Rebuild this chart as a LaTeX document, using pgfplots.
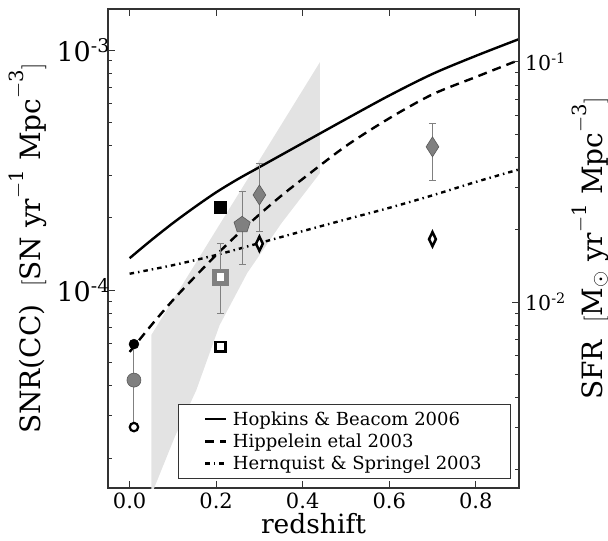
\documentclass[border=0pt]{standalone}
\usepackage{fontspec}
\setmainfont{DejaVu Serif}
\usepackage{pgfplots}
\pgfplotsset{compat=1.18}
\usetikzlibrary{plotmarks}

\definecolor{band}{gray}{0.89}
\definecolor{mgray}{gray}{0.5}
\definecolor{dgray}{gray}{0.35}
\definecolor{frame}{gray}{0.2}

\begin{document}
\begin{tikzpicture}
\begin{axis}[
  scale only axis, width=411pt, height=479pt,
  xmin=-0.05, xmax=0.9,
  ymode=log,
  tick align=inside,
  major tick length=7pt, minor tick length=4pt,
  axis line style={line width=1.3pt, frame},
  every tick/.style={frame, line width=0.8pt},
  label style={font=\fontsize{28}{32}\selectfont},
  ymin=1.5e-5, ymax=1.48e-3,
  xtick={0,0.2,0.4,0.6,0.8}, xticklabels={0.0,0.2,0.4,0.6,0.8},
  ytick={1e-4,1e-3}, yticklabels={10\textsuperscript{-4},10\textsuperscript{-3}},
  minor ytick={2e-5,3e-5,4e-5,5e-5,6e-5,7e-5,8e-5,9e-5,2e-4,3e-4,4e-4,5e-4,6e-4,7e-4,8e-4,9e-4},
  ytick pos=left, xtick pos=both,
  xticklabel style={font=\fontsize{21}{24}\selectfont, inner sep=0pt, anchor=north, yshift=-5pt},
  yticklabel style={font=\fontsize{27}{30}\selectfont, inner sep=0pt, anchor=east, xshift=2pt},
  xlabel={redshift},
  ylabel={SNR(CC)\ \ $[\mathrm{SN\ yr^{-1}\ Mpc^{-3}}]$},
  xlabel style={at={(axis description cs:0.5,-0.095)}, anchor=base, inner sep=0pt, font=\fontsize{26.5}{30}\selectfont},
  ylabel style={at={(axis description cs:-0.195,0.5)}, anchor=center},
  legend style={at={(axis description cs:0.9805,0.0188)}, anchor=south east,
    draw=frame, line width=0.8pt, font=\fontsize{18}{21}\selectfont,
    inner xsep=25.4pt, inner ysep=3.75pt, row sep=0pt, column sep=1.8pt,
    nodes={inner sep=3.6pt}, cells={anchor=west}},
  legend image code/.code={\draw[#1] (0pt,0pt) -- (21pt,0pt);},
]
\coordinate (sw) at (rel axis cs:0,0);
\coordinate (ne) at (rel axis cs:1,1);

% shaded band
\addplot[fill=band, draw=none, forget plot] coordinates {
 (0.05,1.4e-5) (0.104,2.44e-5) (0.154,3.83e-5) (0.208,7.15e-5) (0.272,1.18e-4)
 (0.351,1.90e-4) (0.44,3.07e-4) (0.44,8.9e-4) (0.05,6.5e-5)
};

% Hopkins & Beacom 2006
\addplot[black, line width=2.4pt, smooth, tension=0.5] coordinates {
 (0,1.358e-4) (0.05,1.614e-4) (0.1,1.901e-4) (0.15,2.213e-4) (0.2,2.553e-4) (0.25,2.897e-4)
 (0.3,3.251e-4) (0.35,3.648e-4) (0.4,4.093e-4) (0.5,5.152e-4) (0.6,6.457e-4) (0.7,7.943e-4)
 (0.8,9.441e-4) (0.9,1.109e-3)
};
\addlegendentry{Hopkins \& Beacom 2006}

% Hippelein etal 2003
\addplot[black, line width=2.4pt, dash pattern=on 9pt off 6pt, smooth, tension=0.5] coordinates {
 (0,5.53e-5) (0.05,7.14e-5) (0.1,9.08e-5) (0.15,1.132e-4) (0.2,1.40e-4) (0.25,1.71e-4)
 (0.3,2.065e-4) (0.35,2.466e-4) (0.4,2.904e-4) (0.5,3.98e-4) (0.6,5.19e-4) (0.7,6.53e-4)
 (0.8,7.71e-4) (0.9,9.08e-4)
};
\addlegendentry{Hippelein etal 2003}

% Hernquist & Springel 2003
\addplot[black, line width=2.4pt, dash pattern=on 4.5pt off 4pt on 1.5pt off 4pt, smooth, tension=0.5] coordinates {
 (0,1.17e-4) (0.1,1.27e-4) (0.2,1.40e-4) (0.3,1.57e-4) (0.4,1.76e-4) (0.5,1.97e-4)
 (0.6,2.20e-4) (0.7,2.48e-4) (0.8,2.82e-4) (0.9,3.18e-4)
};
\addlegendentry{Hernquist \& Springel 2003}

% gray circle with error bar at z~0
\addplot[forget plot, only marks, mark=*, mark size=7pt, mark options={fill=mgray, draw=dgray, line width=0.6pt},
  error bars/.cd, y dir=both, y explicit,
  error bar style={mgray, line width=1pt},
  error mark options={rotate=90, mgray, mark size=3.5pt, line width=1pt}]
 coordinates {(0.01,4.22e-5) += (0,1.74e-5) -= (0,1.62e-5)};
\addplot[forget plot, only marks, mark=*, mark size=5pt, black] coordinates {(0.01,5.96e-5)};
\addplot[forget plot, only marks, mark=*, mark size=4.2pt, mark options={fill=white, draw=black, line width=2.2pt}]
 coordinates {(0.01,2.69e-5)};

% squares at z=0.21
\addplot[forget plot, only marks, mark=square*, mark size=6pt, black] coordinates {(0.21,2.22e-4)};
\addplot[forget plot, only marks, mark=square*, mark size=6.2pt, mark options={fill=white, draw=mgray, line width=4.5pt},
  error bars/.cd, y dir=both, y explicit,
  error bar style={mgray, line width=1pt},
  error mark options={rotate=90, mgray, mark size=3.5pt, line width=1pt}]
 coordinates {(0.21,1.13e-4) += (0,4.4e-5) -= (0,3.27e-5)};
\addplot[forget plot, only marks, mark=square*, mark size=4.8pt, mark options={fill=white, draw=black, line width=2.5pt}]
 coordinates {(0.21,5.81e-5)};

% pentagon
\addplot[forget plot, only marks, mark=pentagon*, mark size=8.5pt, mark options={fill=mgray, draw=dgray, line width=0.6pt},
  error bars/.cd, y dir=both, y explicit,
  error bar style={mgray, line width=1pt},
  error mark options={rotate=90, mgray, mark size=3.5pt, line width=1pt}]
 coordinates {(0.26,1.87e-4) += (0,7.0e-5) -= (0,5.9e-5)};

% gray diamonds
\addplot[forget plot, only marks, mark=diamond*, mark size=10pt, mark options={xscale=0.85, fill=mgray, draw=dgray, line width=0.6pt},
  error bars/.cd, y dir=both, y explicit,
  error bar style={mgray, line width=1pt},
  error mark options={rotate=90, mgray, mark size=3.5pt, line width=1pt}]
 coordinates {(0.30,2.49e-4) += (0,8.6e-5) -= (0,7.4e-5)
              (0.70,3.95e-4) += (0,1.0e-4) -= (0,1.08e-4)};

% open diamonds
\addplot[forget plot, only marks, mark=diamond*, mark size=7.1pt, mark options={xscale=0.64, fill=white, draw=black, line width=2.5pt}]
 coordinates {(0.30,1.56e-4) (0.70,1.63e-4)};
\end{axis}

\begin{axis}[
  scale only axis, width=411pt, height=479pt,
  xmin=-0.05, xmax=0.9,
  ymode=log,
  tick align=inside,
  major tick length=7pt, minor tick length=4pt,
  axis line style={line width=1.3pt, frame},
  every tick/.style={frame, line width=0.8pt},
  label style={font=\fontsize{28}{32}\selectfont},
  ymin=1.68e-3, ymax=0.166,
  axis x line=none, axis y line*=right,
  ytick={1e-2,1e-1}, yticklabels={10\textsuperscript{-2},10\textsuperscript{-1}},
  minor ytick={2e-3,3e-3,4e-3,5e-3,6e-3,7e-3,8e-3,9e-3,2e-2,3e-2,4e-2,5e-2,6e-2,7e-2,8e-2,9e-2},
  yticklabel style={font=\fontsize{20.5}{24}\selectfont, inner sep=0pt, anchor=west, xshift=6pt},
  ylabel={SFR\ \ $[\mathrm{M_{\odot}\ yr^{-1}\ Mpc^{-3}}]$},
  ylabel style={at={(axis description cs:1.173,0.5)}, anchor=center},
]
\addplot[draw=none] coordinates {(0,0.01)};
\end{axis}

\pgfresetboundingbox
\path ([shift={(-108pt,-52pt)}]sw) rectangle ([shift={(89pt,9pt)}]ne);
\end{tikzpicture}
\end{document}
